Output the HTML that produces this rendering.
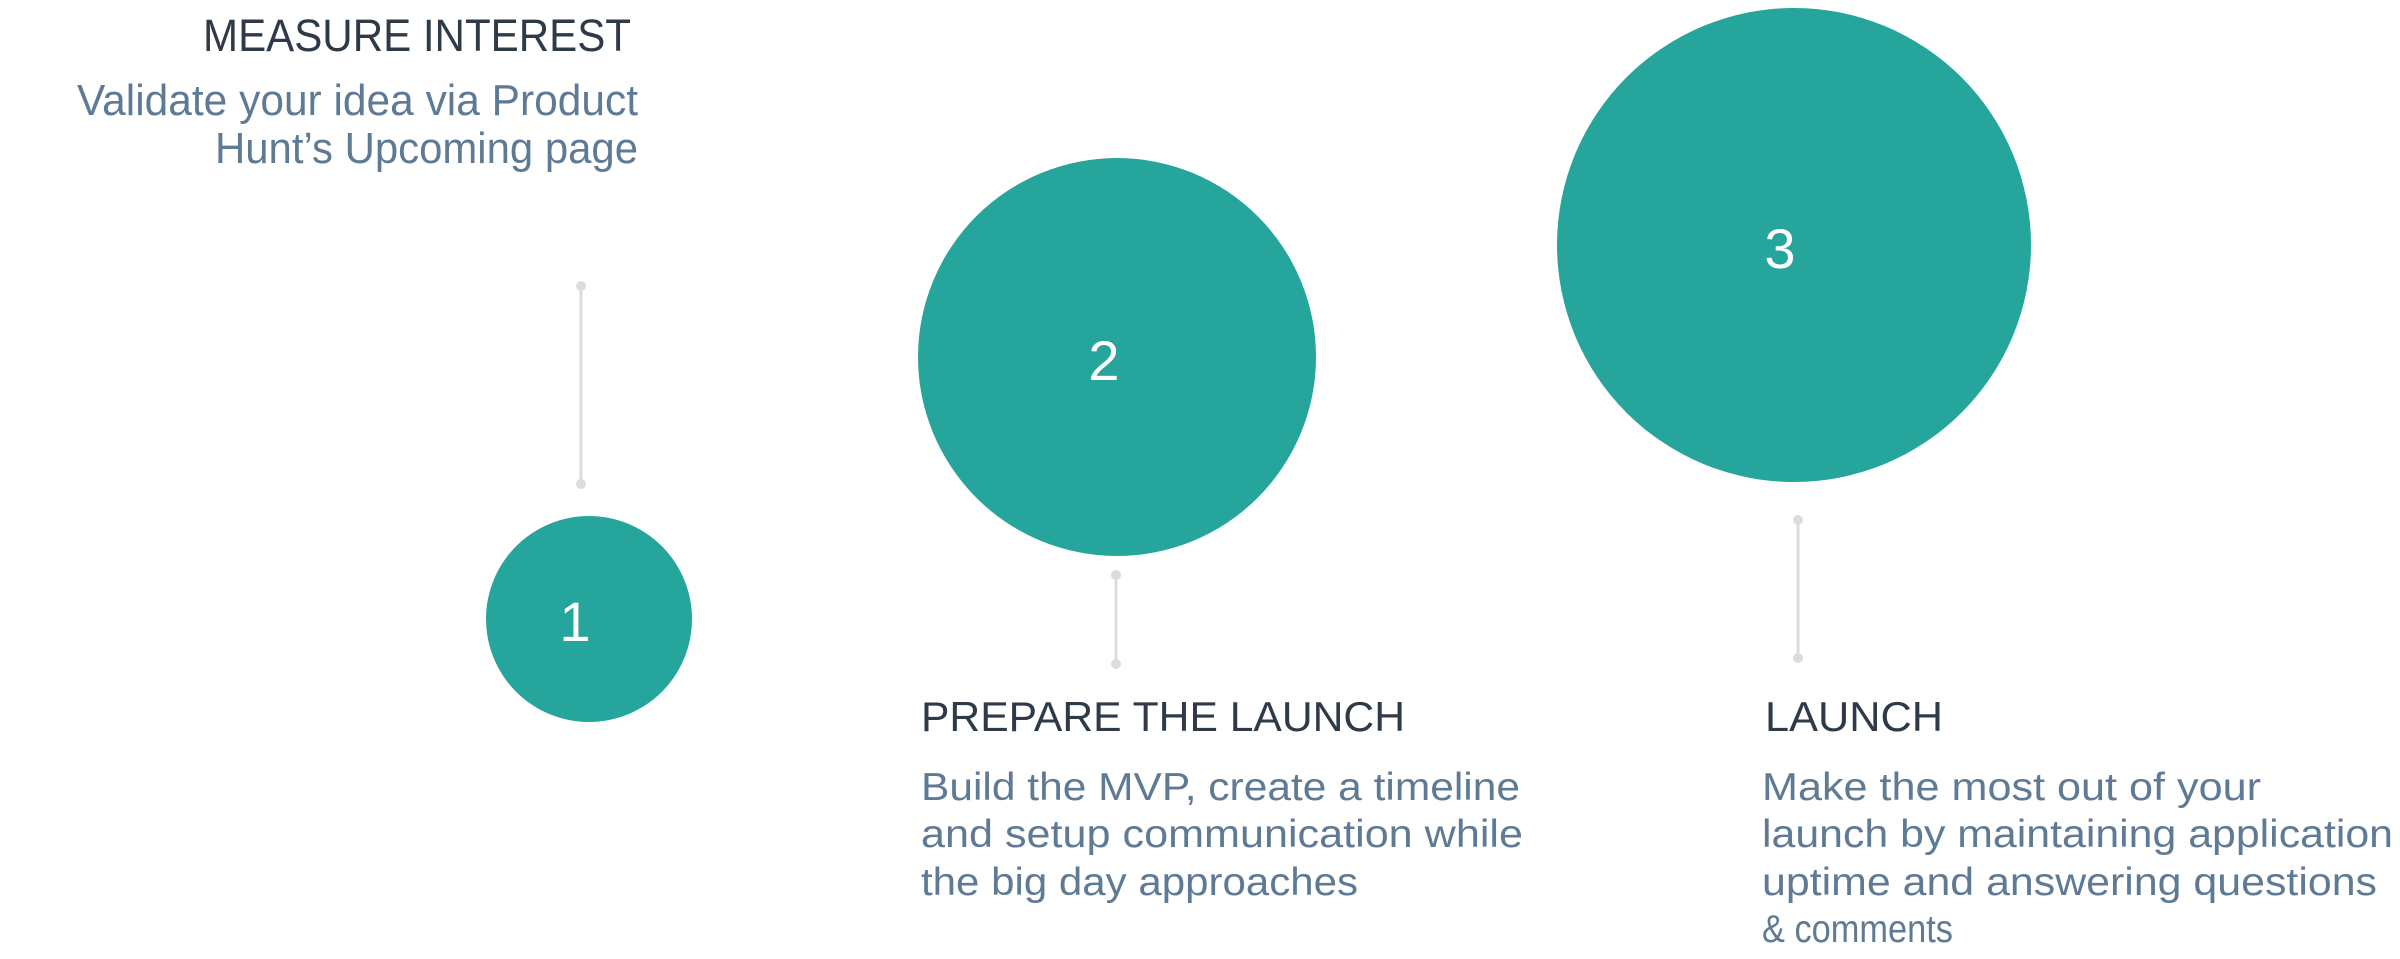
<!DOCTYPE html>
<html><head><meta charset="utf-8"><style>
html,body{margin:0;padding:0;background:#fff;width:2400px;height:959px;overflow:hidden}
svg{display:block}
.h{font-family:"Liberation Sans",sans-serif;fill:#2e3a47;font-size:42px}
.b{font-family:"Liberation Sans",sans-serif;fill:#5f7a94;font-size:39px}
.n{font-family:"Liberation Sans",sans-serif;fill:#fff;font-size:56px;text-anchor:middle}
</style></head><body>
<svg width="2400" height="959" viewBox="0 0 2400 959" xmlns="http://www.w3.org/2000/svg">
<g stroke="#dcdcdc" stroke-width="3"><line x1="581" y1="286" x2="581" y2="484"/><line x1="1116" y1="575" x2="1116" y2="664"/><line x1="1798" y1="520" x2="1798" y2="658"/></g>
<g fill="#dcdcdc"><circle cx="581" cy="286" r="5"/><circle cx="581" cy="484" r="5"/><circle cx="1116" cy="575" r="5"/><circle cx="1116" cy="664" r="5"/><circle cx="1798" cy="520" r="5"/><circle cx="1798" cy="658" r="5"/></g>
<g fill="#26a59d"><circle cx="589" cy="619" r="103"/><circle cx="1117" cy="357" r="199"/><circle cx="1794" cy="245" r="237"/></g>
<text class="n" x="575" y="641">1</text>
<text class="n" x="1104" y="380">2</text>
<text class="n" x="1780" y="268">3</text>
<text class="h" x="203" y="51" style="font-size:45px" textLength="428" lengthAdjust="spacingAndGlyphs">MEASURE INTEREST</text>
<text class="b" x="77" y="115" style="font-size:44px" textLength="561" lengthAdjust="spacingAndGlyphs">Validate your idea via Product</text>
<text class="b" x="215" y="163" style="font-size:44px" textLength="423" lengthAdjust="spacingAndGlyphs">Hunt’s Upcoming page</text>
<text class="h" x="921" y="731" textLength="484" lengthAdjust="spacingAndGlyphs">PREPARE THE LAUNCH</text>
<text class="b" x="921" y="800" textLength="599" lengthAdjust="spacingAndGlyphs">Build the MVP, create a timeline</text>
<text class="b" x="921" y="847" textLength="602" lengthAdjust="spacingAndGlyphs">and setup communication while</text>
<text class="b" x="921" y="895" textLength="437" lengthAdjust="spacingAndGlyphs">the big day approaches</text>
<text class="h" x="1765" y="731" textLength="178" lengthAdjust="spacingAndGlyphs">LAUNCH</text>
<text class="b" x="1762" y="800" textLength="499" lengthAdjust="spacingAndGlyphs">Make the most out of your</text>
<text class="b" x="1762" y="847" textLength="631" lengthAdjust="spacingAndGlyphs">launch by maintaining application</text>
<text class="b" x="1762" y="895" textLength="615" lengthAdjust="spacingAndGlyphs">uptime and answering questions</text>
<text class="b" x="1762" y="942" textLength="191" lengthAdjust="spacingAndGlyphs">&amp; comments</text>
</svg>
</body></html>
